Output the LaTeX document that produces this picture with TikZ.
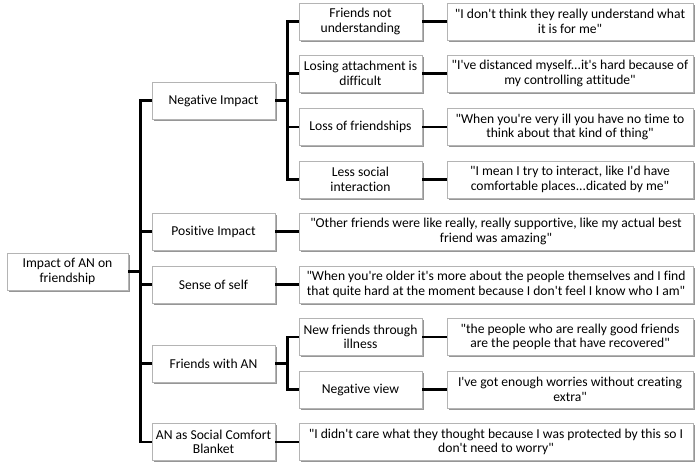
\documentclass[tikz,border=0pt]{standalone}
\usepackage{fontspec}
\newfontfamily\cardfont[Ligatures=NoCommon]{Carlito}
\usepackage{tikz}
\usetikzlibrary{positioning, shadows}
\definecolor{cardframe}{RGB}{180,180,180}
\definecolor{cardshadow}{RGB}{150,150,150}
\tikzset{
  card/.style={rectangle, draw=cardframe, fill=white, align=center,
    minimum height=27.75pt, inner sep=1pt, line width=0.6pt,
    font=\cardfont\fontsize{10.2}{10.8}\selectfont,
    drop shadow={shadow xshift=1.2pt, shadow yshift=-1.2pt, fill=cardshadow, opacity=1}},
  theme/.style={card, minimum width=92.25pt},
  quotebox/.style={card, minimum width=184.5pt},
  longquote/.style={card, minimum width=295.5pt},
  line/.style={line width=2.2pt, color=black}
}

\begin{document}
\begin{tikzpicture}[x=0.75pt, y=-0.75pt]
  \useasboundingbox (0,0) rectangle (700,469);

  % main theme
  \node[theme, minimum width=90.75pt] (root) at (67.5,271.5) {Impact of AN on\\friendship};

  % sub-themes
  \node[theme] (neg) at (213.5,100.5) {Negative Impact};
  \node[theme] (pos) at (213.5,231.5) {Positive Impact};
  \node[theme] (self) at (213.5,284.5) {Sense of self};
  \node[theme] (fwan) at (213.5,363.5) {Friends with AN};
  \node[theme] (blanket) at (213.5,442) {AN as Social Comfort\\Blanket};

  % negative impact
  \node[theme] (fnu) at (360.5,21.5) {Friends not\\understanding};
  \node[theme] (lose) at (360.5,73.5) {Losing attachment is\\difficult};
  \node[theme] (loss) at (360.5,127) {Loss of friendships};
  \node[theme] (less) at (360.5,179.5) {Less social\\interaction};

  % friends with AN
  \node[theme] (newf) at (360.5,337) {New friends through\\illness};
  \node[theme] (negv) at (360.5,389.5) {Negative view};

  % quotes
  \node[quotebox] (qfnu) at (570,21.5) {"I don't think they really understand what\\it is for me"};
  \node[quotebox] (qlose) at (570,73.5) {"I've distanced myself...it's hard because of\\my controlling attitude"};
  \node[quotebox] (qloss) at (570,127) {"When you're very ill you have no time to\\think about that kind of thing"};
  \node[quotebox] (qless) at (570,179.5) {"I mean I try to interact, like I'd have\\comfortable places...dicated by me"};
  \node[quotebox] (qnewf) at (570,337) {"the people who are really good friends\\are the people that have recovered"};
  \node[quotebox] (qnegv) at (570,389.5) {I've got enough worries without creating\\extra"};

  \node[longquote] (qpos) at (496,231.5) {"Other friends were like really, really supportive, like my actual best\\friend was amazing"};
  \node[longquote] (qself) at (496,284.5) {"When you're older it's more about the people themselves and I find\\that quite hard at the moment because I don't feel I know who I am"};
  \node[longquote] (qblanket) at (496,442) {"I didn't care what they thought because I was protected by this so I\\don't need to worry"};

  % connectors
  \foreach \n in {neg,pos,self,fwan,blanket}
    \draw[line] (root.east) -- ++(12,0) |- (\n.west);
  \foreach \n in {fnu,lose,loss,less}
    \draw[line] (neg.east) -- ++(12,0) |- (\n.west);
  \foreach \n in {newf,negv}
    \draw[line] (fwan.east) -- ++(12,0) |- (\n.west);
  \foreach \a/\b in {fnu/qfnu, lose/qlose, loss/qloss, less/qless, newf/qnewf,
      negv/qnegv, pos/qpos, self/qself, blanket/qblanket}
    \draw[line] (\a) -- (\b);
\end{tikzpicture}
\end{document}
